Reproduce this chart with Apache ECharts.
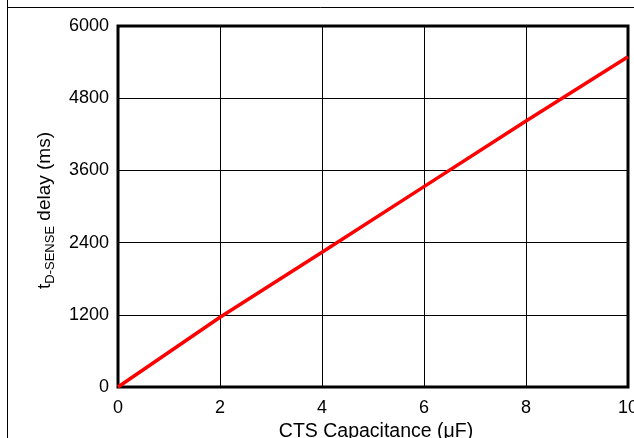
<!DOCTYPE html>
<html>
<head>
<meta charset="utf-8">
<script src="https://cdn.jsdelivr.net/npm/echarts@6/dist/echarts.min.js"></script>
<style>
html,body{margin:0;padding:0;background:#fff;}
#chart{width:634px;height:438px;}
</style>
</head>
<body>
<div id="chart"></div>
<script>
const capacitance = [0, 2, 4, 6, 8, 10];
const delayMs = [0, 1160, 2240, 3330, 4420, 5490];
const xTicks = [0, 2, 4, 6, 8, 10];
const yTicks = [0, 1200, 2400, 3600, 4800, 6000];

const chart = echarts.init(document.getElementById('chart'));
const font = 'Liberation Sans, Arial, Helvetica, sans-serif';
chart.setOption({
  animation: false,
  backgroundColor: '#fff',
  graphic: [
    { type: 'line', shape: { x1: 7.5, y1: 0, x2: 7.5, y2: 438 }, style: { stroke: '#000', lineWidth: 1 } },
    { type: 'line', shape: { x1: 7.5, y1: 7.5, x2: 634, y2: 7.5 }, style: { stroke: '#000', lineWidth: 1 } }
  ],
  grid: {
    left: 118, top: 26, right: 6, bottom: 51,
    outerBoundsMode: 'none', containLabel: false,
    show: true, borderColor: '#000', borderWidth: 3, backgroundColor: 'transparent'
  },
  xAxis: {
    type: 'value', min: xTicks[0], max: xTicks[xTicks.length - 1], interval: 2,
    name: 'CTS Capacitance (\u03bcF)', nameLocation: 'middle', nameGap: 35,
    nameTextStyle: { fontFamily: font, fontSize: 19.5, color: '#000', padding: [0, 0, 0, 6] },
    axisLine: { show: false },
    axisTick: { show: false },
    axisLabel: { fontFamily: font, fontSize: 18, color: '#000', margin: 12, formatter: v => String(v) },
    splitLine: { show: true, lineStyle: { color: '#000', width: 1 } }
  },
  yAxis: {
    type: 'value', min: yTicks[0], max: yTicks[yTicks.length - 1], interval: 1200,
    name: '{t|t}{s|D-SENSE}{n| delay (ms)}', nameLocation: 'middle', nameGap: 61,
    nameTextStyle: {
      fontFamily: font, fontSize: 19, color: '#000', padding: [0, 8, 0, 0],
      rich: {
        t: { fontFamily: font, fontSize: 19, color: '#000', lineHeight: 25, verticalAlign: 'middle' },
        s: { fontFamily: font, fontSize: 13, color: '#000', lineHeight: 25, verticalAlign: 'bottom' },
        n: { fontFamily: font, fontSize: 19, color: '#000', lineHeight: 25, verticalAlign: 'middle' }
      }
    },
    axisLine: { show: false },
    axisTick: { show: false },
    axisLabel: { fontFamily: font, fontSize: 18, color: '#000', margin: 9, formatter: v => String(v) },
    splitLine: { show: true, lineStyle: { color: '#000', width: 1 } }
  },
  series: [{
    type: 'line',
    data: capacitance.map((c, i) => [c, delayMs[i]]),
    showSymbol: false,
    lineStyle: { color: '#ff0000', width: 3.5 },
    z: 3
  }]
});
</script>
</body>
</html>
